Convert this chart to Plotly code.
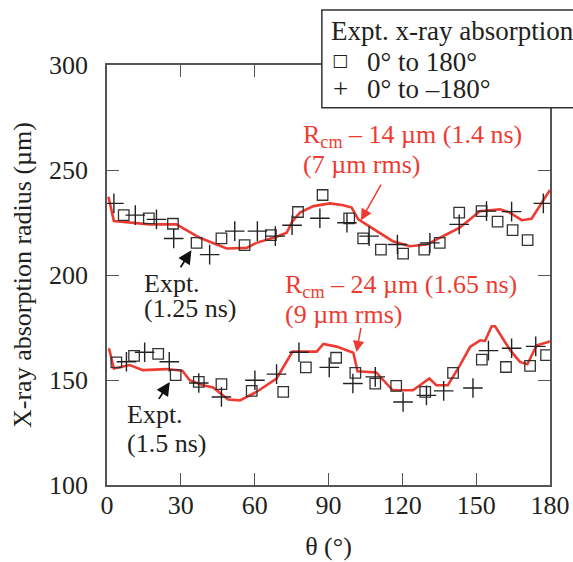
import plotly.graph_objects as go

# ---------------- data ----------------
# Upper set (1.25 ns expt, 1.4 ns sim)
up_sq_theta = [6.8, 17.0, 26.8, 36.4, 46.5, 55.9, 66.6, 77.6, 87.6, 98.4, 104.1, 111.3, 120.3, 128.9, 135.2, 143.1, 152.2, 158.7, 164.8, 170.9]
up_sq_r = [228.5, 227, 224.4, 215.3, 217.4, 214.2, 219, 230, 238.1, 227, 217.4, 212.1, 210.2, 212.1, 215.3, 229.7, 230.4, 225.4, 221.4, 216.6]

up_pl_theta = [2.8, 11.5, 20.1, 27.1, 41.7, 51.9, 61.1, 68.4, 75.2, 86.5, 97.5, 106.5, 118.0, 131.2, 143.1, 154.2, 164.4, 177.3]
up_pl_r = [234.1, 228.5, 226.5, 217.4, 209.7, 220.9, 220.9, 218.5, 223.7, 227, 224.9, 218.5, 214.5, 215.3, 224.1, 230.4, 230.2, 234.1]

up_sim_theta = [0.6, 2.8, 17.4, 28.2, 37.7, 48.6, 56.7, 60.7, 68.9, 73.0, 75.4, 78.4, 83.9, 90.6, 96.0, 99.4, 102.1, 109.4, 116.1, 123.1, 129.8, 137.9, 143.3, 151.5, 159.7, 163.7, 168.5, 172.5, 180.0]
up_sim_r = [237.3, 225.7, 224.1, 224.1, 217.7, 212.6, 212.9, 215.3, 218.2, 220.1, 225.7, 229.7, 232.8, 234.1, 233.2, 232.1, 226.5, 220.9, 216.1, 213.7, 214.5, 219.3, 222.5, 230.4, 231.3, 229.7, 226.1, 226.8, 240.5]

# Lower set (1.5 ns expt, 1.65 ns sim)
lo_sq_theta = [3.8, 11.0, 20.8, 27.9, 37.3, 46.5, 58.8, 71.6, 80.8, 93.1, 100.9, 109.0, 117.5, 129.3, 140.6, 152.3, 162.1, 171.9, 178.4]
lo_sq_r = [158.4, 161.5, 162.4, 152.3, 149.1, 148, 144.8, 144.3, 156, 160.6, 153.4, 148.3, 147.2, 144.3, 153.4, 159.7, 156.2, 156.7, 161.8]

lo_pl_theta = [7.9, 15.3, 25.3, 37.3, 46.5, 60.1, 68.9, 78.0, 90.3, 99.9, 109.0, 120.3, 129.8, 136.8, 148.7, 155.0, 164.4, 174.2]
lo_pl_r = [158.7, 163.2, 158.7, 148.6, 141.9, 149.9, 152.8, 163.2, 156, 148.3, 151.5, 139.5, 142.7, 144.8, 146.2, 164, 165.1, 166]

lo_sim_theta = [0.8, 2.8, 9.2, 14.6, 24.1, 30.6, 33.6, 39.0, 43.1, 49.2, 54.0, 60.7, 68.9, 75.4, 85.2, 87.9, 93.3, 97.4, 100.1, 101.8, 109.4, 116.1, 124.3, 131.0, 133.8, 138.5, 143.4, 147.5, 151.6, 153.6, 156.3, 157.7, 160.4, 163.8, 167.8, 170.8, 172.6, 174.6, 179.3, 180.0]
lo_sim_r = [165.1, 155.5, 157.1, 154.7, 155.2, 154.4, 149.9, 147.5, 146.4, 140.7, 140.3, 144.3, 150.7, 163.5, 163.5, 167.2, 165.9, 164.3, 163.0, 154.2, 153.6, 145.1, 145.1, 150.7, 147.5, 147.5, 157.0, 165.7, 168.9, 168.6, 175.6, 175.6, 170.5, 164.2, 158.6, 157.5, 161.8, 166.5, 168.1, 168.5]

x_ticks = [0, 30, 60, 90, 120, 150, 180]
y_ticks = [100, 150, 200, 250, 300]

# ---------------- styles ----------------
FONT = "Liberation Serif, Times New Roman, DejaVu Serif, serif"
RED = "#EE3B32"
INK = "#231F20"
AX = "#555555"

sq_marker = dict(symbol="square-open", size=10.5, color="#333333", line=dict(width=1.3, color="#333333"))
pl_marker = dict(symbol="cross-thin", size=14, color="#222222", line=dict(width=1.4, color="#222222"))

fig = go.Figure()
for th, r in [(up_sim_theta, up_sim_r), (lo_sim_theta, lo_sim_r)]:
    fig.add_trace(go.Scatter(x=th, y=r, mode="lines", line=dict(color=RED, width=2.6), showlegend=False, hoverinfo="skip"))
for th, r in [(up_sq_theta, up_sq_r), (lo_sq_theta, lo_sq_r)]:
    fig.add_trace(go.Scatter(x=th, y=r, mode="markers", marker=sq_marker, showlegend=False))
for th, r in [(up_pl_theta, up_pl_r), (lo_pl_theta, lo_pl_r)]:
    fig.add_trace(go.Scatter(x=th, y=r, mode="markers", marker=pl_marker, showlegend=False))

axis_common = dict(
    showline=True, linecolor=AX, linewidth=1.6, mirror="ticks",
    ticks="inside", ticklen=12, tickwidth=1.4, tickcolor=AX,
    showgrid=False, zeroline=False, automargin=False,
    tickfont=dict(family=FONT, size=26, color=INK),
)

fig.update_layout(
    width=573, height=562,
    margin=dict(l=107, r=23, t=65, b=77, autoexpand=False),
    paper_bgcolor="white", plot_bgcolor="white",
    font=dict(family=FONT, size=26, color=INK),
    xaxis=dict(range=[0, 180], tickvals=x_ticks, ticklabelstandoff=-4,
               title=dict(text="θ (°)", font=dict(family=FONT, size=26, color=INK), standoff=18),
               **axis_common),
    yaxis=dict(range=[100, 300], tickvals=y_ticks, ticklabelstandoff=12,
               title=dict(text="X-ray absorption radius (µm)", font=dict(family=FONT, size=26, color=INK), standoff=10),
               **axis_common),
    showlegend=False,
)

# Text annotations
def txt(x, y, text, color=INK, xref="x", yref="y", size=26, xanchor="left", yanchor="middle", family=FONT):
    fig.add_annotation(x=x, y=y, xref=xref, yref=yref, text=text, showarrow=False,
                       xanchor=xanchor, yanchor=yanchor, align="left",
                       font=dict(family=family, size=size, color=color))

txt(79.0, 266.2, "R<sub>cm</sub> – 14 µm (1.4 ns)", color=RED)
txt(79.0, 252.6, "(7 µm rms)", color=RED)
txt(71.5, 194.6, "R<sub>cm</sub> – 24 µm (1.65 ns)", color=RED)
txt(71.5, 181.3, "(9 µm rms)", color=RED)
txt(14.2, 196.1, "Expt.")
txt(14.2, 183.9, "(1.25 ns)")
txt(7.4, 133.7, "Expt.")
txt(7.4, 119.8, "(1.5 ns)")

# Arrows (head at x,y; tail at ax,ay in data coords)
def arrow(x, y, ax, ay, color, width):
    fig.add_annotation(x=x, y=y, ax=ax, ay=ay, xref="x", yref="y", axref="x", ayref="y",
                       text="", showarrow=True, arrowhead=2, arrowsize=1.5,
                       arrowwidth=width, arrowcolor=color, standoff=0)

arrow(34.3, 211.8, 29.5, 203.0, "#111111", 1.8)
arrow(25.5, 149.0, 20.7, 140.3, "#111111", 1.8)
arrow(103.2, 226.1, 111.7, 243.8, RED, 1.5)
arrow(101.4, 163.3, 103.3, 175.5, RED, 1.5)

# Legend box (drawn manually to match the reference)
fig.add_shape(type="rect", xref="paper", yref="paper", x0=0.485, x1=1.079, y0=0.898, y1=1.131,
              line=dict(color="#333333", width=1.5), fillcolor="white", layer="above")
txt(0.5, 1.082, "Expt. x-ray absorption", xref="paper", yref="paper", size=27)
txt(0.526, 1.012, "□", xref="paper", yref="paper", size=17, xanchor="center", family="DejaVu Sans")
txt(0.582, 1.008, "0° to 180°", xref="paper", yref="paper", size=27)
txt(0.527, 0.944, "+", xref="paper", yref="paper", xanchor="center", size=27)
txt(0.582, 0.944, "0° to –180°", xref="paper", yref="paper", size=27)

# Figure code at bottom left (cut off in reference)
fig.add_annotation(x=-0.215, y=-0.187, xref="paper", yref="paper", text="TC6531", showarrow=False,
                   xanchor="left", yanchor="top", font=dict(family=FONT, size=11, color="#444444"))

fig.write_html("out.html")
